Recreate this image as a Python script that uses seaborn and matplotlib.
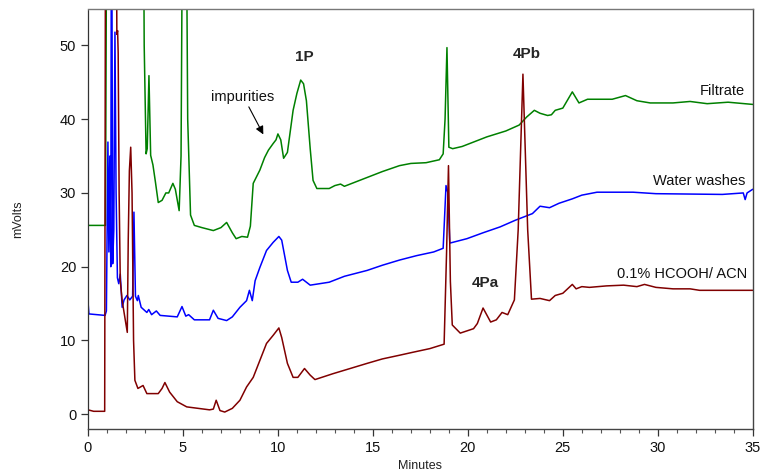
import numpy as np
import pandas as pd
import matplotlib
matplotlib.use("Agg")
import matplotlib.pyplot as plt
import seaborn as sns

# ---- data ----
filtrate_t = [0, 0.92, 1.0, 2.9, 2.96, 3.06, 3.12, 3.21, 3.3, 3.42, 3.55, 3.7, 3.9, 4.1, 4.25, 4.47, 4.6, 4.8,
              4.9, 5.0, 5.15, 5.25, 5.4, 5.6, 6.0, 6.6, 7.0, 7.3, 7.6, 7.8, 8.1, 8.4, 8.55, 8.7, 9.05, 9.3, 9.5,
              9.75, 9.9, 10.0, 10.15, 10.3, 10.5, 10.8, 11.0, 11.2, 11.35, 11.5, 11.7, 11.85, 12.05, 12.7, 13.0,
              13.3, 13.5, 14.0, 14.7, 15.5, 16.4, 17.0, 17.8, 18.5, 18.7, 18.8, 18.9, 19.0, 19.2, 19.7, 20.3,
              21.0, 22.0, 22.7, 23.1, 23.5, 23.8, 24.2, 24.4, 24.6, 25.0, 25.5, 25.85, 26.3, 27.0, 27.6, 28.3,
              28.9, 29.6, 30.8, 31.7, 32.6, 33.7, 35.0]
filtrate_v = [25.6, 25.6, 80, 80, 50, 35.3, 36, 45.9, 35.1, 33.8, 31.5, 28.7, 29.0, 30.0, 30.0, 31.3, 30.5, 27.6,
              35, 80, 80, 40, 27, 25.6, 25.3, 24.9, 25.3, 26.0, 24.6, 23.8, 24.1, 24.0, 25.5, 31.3, 33.1, 34.8, 35.8,
              36.7, 37.2, 38.0, 37.2, 34.7, 35.5, 41.2, 43.5, 45.3, 44.8, 42.5, 36, 31.7, 30.6, 30.6, 31.0,
              31.2, 30.9, 31.4, 32.1, 32.9, 33.7, 34.0, 34.1, 34.5, 35.3, 40, 49.7, 36.2, 36.0, 36.3, 36.9,
              37.6, 38.4, 39.2, 40.3, 41.2, 40.8, 40.5, 40.6, 41.2, 41.5, 43.7, 42.2, 42.7, 42.7, 42.7, 43.2,
              42.5, 42.2, 42.2, 42.4, 42.1, 42.3, 42.0]

water_t = [0, 0.05, 0.9, 0.97, 1.05, 1.1, 1.15, 1.2, 1.24, 1.3, 1.36, 1.42, 1.48, 1.55, 1.62, 1.7, 1.8, 1.9,
           2.05, 2.2, 2.35, 2.42, 2.5, 2.6, 2.65, 2.8, 3.1, 3.2, 3.35, 3.6, 3.8, 4.7, 4.95, 5.15, 5.3, 5.6, 6.4,
           6.6, 6.85, 7.3, 7.6, 8.0, 8.35, 8.5, 8.65, 8.8, 9.05, 9.4, 9.75, 10.05, 10.2, 10.5, 10.7, 11.05, 11.3,
           11.7, 12.7, 13.5, 14.7, 15.5, 16.4, 17.3, 18.2, 18.7, 18.85, 18.95, 19.05, 19.95, 20.8, 21.7, 22.5,
           23.4, 23.8, 24.3, 24.8, 25.5, 26.0, 26.8, 28.7, 29.9, 33.4, 34.5, 34.6, 34.7, 35.0]
water_v = [15.3, 13.6, 13.4, 14, 36.9, 22, 35, 20, 80, 20.4, 25, 51.8, 30, 18.5, 17.7, 19, 14.5, 15.5,
           16.1, 15.5, 16.0, 27.4, 16, 15.4, 16.1, 14.5, 13.8, 14.2, 13.5, 14.0, 13.4, 13.2, 14.6, 13.3, 13.5, 12.8, 12.8,
           14.1, 13.0, 12.7, 13.2, 14.5, 15.4, 16.8, 15.4, 18.1, 19.9, 22.2, 23.3, 24.1, 23.6, 19.5, 17.9, 17.9, 18.3,
           17.5, 17.9, 18.7, 19.5, 20.2, 20.9, 21.5, 22.0, 22.5, 31, 30, 23.2, 23.8, 24.6, 25.4, 26.3,
           27.2, 28.2, 28.0, 28.6, 29.2, 29.7, 30.1, 30.1, 29.9, 29.8, 30.0, 29.1, 30.0, 30.5]

acid_t = [0, 0.3, 0.88, 0.93, 1.48, 1.52, 1.56, 1.59, 1.64, 1.7, 1.8, 1.95, 2.07, 2.12, 2.18, 2.25, 2.32, 2.4,
          2.47, 2.63, 2.9, 3.1, 3.7, 3.9, 4.05, 4.3, 4.7, 5.2, 6.4, 6.6, 6.75, 6.95, 7.2, 7.6, 8.0, 8.35, 8.7,
          9.05, 9.4, 9.75, 10.05, 10.2, 10.5, 10.8, 11.05, 11.4, 11.7, 11.95, 12.9, 13.8, 14.7, 15.5, 16.4, 17.1,
          18.0, 18.75, 18.88, 18.98, 19.08, 19.18, 19.6, 20.3, 20.5, 20.8, 21.2, 21.5, 21.8, 22.1, 22.45, 22.65,
          22.9, 23.15, 23.35, 23.8, 24.3, 24.6, 25.0, 25.5, 25.7, 26.0, 26.4, 27.3, 28.2, 28.9, 29.3, 29.9,
          30.8, 31.7, 32.2, 35.0]
acid_v = [0.6, 0.4, 0.4, 80, 80, 51.5, 52, 49, 30, 18.1, 15.4, 13, 11.1, 23.6, 33, 36.2, 30, 10,
          4.6, 3.5, 3.9, 2.8, 2.8, 3.5, 4.3, 3.0, 1.7, 1.0, 0.6, 0.7, 1.9, 0.5, 0.3, 0.8, 1.9, 3.7, 5.0,
          7.3, 9.6, 10.7, 11.7, 10.4, 6.9, 5.0, 5.0, 6.2, 5.3, 4.7, 5.5, 6.2, 6.9, 7.5, 8.0, 8.4,
          8.9, 9.5, 22, 33.7, 18, 12.1, 11.0, 11.6, 12.3, 14.4, 12.5, 12.8, 13.8, 13.5, 15.5, 25,
          46.1, 25, 15.6, 15.7, 15.4, 16.1, 16.4, 17.6, 17.0, 17.3, 17.2, 17.4, 17.5, 17.3, 17.6, 17.2,
          17.0, 17.0, 16.8, 16.8]

series_names = ["Filtrate", "Water washes", "0.1% HCOOH/ ACN"]
series_colors = ["#008000", "#0000ff", "#800000"]
x_ticks = [0, 5, 10, 15, 20, 25, 30, 35]
y_ticks = [0, 10, 20, 30, 40, 50]

df = pd.concat([
    pd.DataFrame({"Minutes": filtrate_t, "mVolts": filtrate_v, "trace": series_names[0]}),
    pd.DataFrame({"Minutes": water_t, "mVolts": water_v, "trace": series_names[1]}),
    pd.DataFrame({"Minutes": acid_t, "mVolts": acid_v, "trace": series_names[2]}),
], ignore_index=True)

sns.set_style("white")
plt.rcParams["font.family"] = ["Liberation Sans", "DejaVu Sans"]

fig = plt.figure(figsize=(7.65, 4.73), dpi=100)
ax = fig.add_axes([0.115, 0.093, 0.869, 0.889])

sns.lineplot(data=df, x="Minutes", y="mVolts", hue="trace", hue_order=series_names,
             palette=dict(zip(series_names, series_colors)), estimator=None, sort=False,
             linewidth=1.1, legend=False, ax=ax)

ax.set_xlim(0, 35)
ax.set_ylim(-2, 55)
ax.set_xticks(x_ticks)
ax.set_yticks(y_ticks)
ax.set_xticks(np.arange(0, 36, 1), minor=True)
ax.tick_params(axis="both", which="major", direction="out", length=5, width=0.9,
               color="#333333", labelsize=10.5, labelcolor="#111111", bottom=True, left=True)
ax.tick_params(axis="x", which="minor", direction="out", length=3, width=0.8, color="#555555", bottom=True)
ax.set_xlabel("Minutes", fontsize=9, color="#222222")
ax.set_ylabel("mVolts", fontsize=9, color="#222222", labelpad=26)

for side in ["top", "right", "bottom"]:
    ax.spines[side].set_visible(True)
    ax.spines[side].set_linewidth(1.0)
ax.spines["top"].set_color("#777777")
ax.spines["right"].set_color("#444444")
ax.spines["bottom"].set_color("#444444")
ax.spines["left"].set_color("#333333")
ax.spines["left"].set_linestyle((0, (3, 1)))
ax.spines["left"].set_linewidth(0.9)

# annotations
ax.text(11.4, 48.4, "1P", fontsize=11, fontweight="bold", ha="center", va="center")
ax.text(23.1, 48.8, "4Pb", fontsize=11, fontweight="bold", ha="center", va="center")
ax.text(20.9, 17.8, "4Pa", fontsize=11, fontweight="bold", ha="center", va="center")
ax.text(8.15, 43.0, "impurities", fontsize=10.5, ha="center", va="center", color="#111111")
ax.annotate("", xy=(9.3, 37.6), xytext=(8.4, 42.0),
            arrowprops=dict(arrowstyle="-|>", color="black", lw=0.8, mutation_scale=12))
ax.text(34.6, 43.8, "Filtrate", fontsize=10.5, ha="right", va="center", color="#111111")
ax.text(34.6, 31.6, "Water washes", fontsize=10.5, ha="right", va="center", color="#111111")
ax.text(34.7, 19.0, "0.1% HCOOH/ ACN", fontsize=10.5, ha="right", va="center", color="#111111")

fig.savefig("out.png", dpi=100)
